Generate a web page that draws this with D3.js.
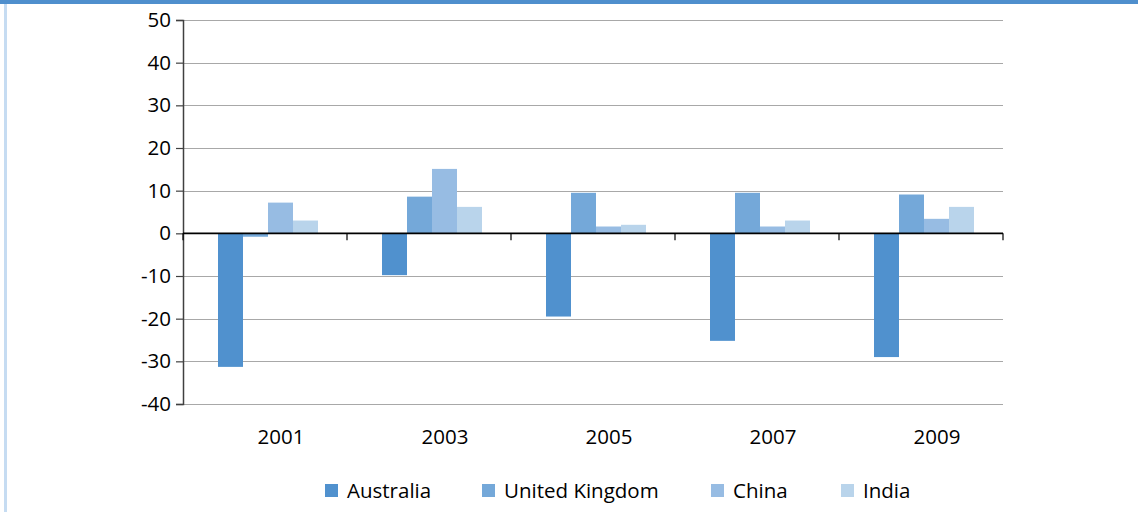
<!DOCTYPE html>
<html>
<head>
<meta charset="utf-8">
<script src="https://cdn.jsdelivr.net/npm/d3@7"></script>
<style>
  html, body { margin: 0; padding: 0; background: #fff; }
  svg { display: block; }
  text { font-family: "Open Sans", "Noto Sans", sans-serif; fill: #000; }
</style>
</head>
<body>
<svg id="chart" width="1138" height="512"></svg>
<script>
const years = ["2001", "2003", "2005", "2007", "2009"];
const seriesNames = ["Australia", "United Kingdom", "China", "India"];
const australia = [-31.3, -9.8, -19.5, -25.2, -29.0];
const unitedKingdom = [-0.8, 8.6, 9.5, 9.5, 9.1];
const china = [7.2, 15.1, 1.6, 1.6, 3.4];
const india = [3.0, 6.2, 2.0, 3.0, 6.2];
const yTicks = [50, 40, 30, 20, 10, 0, -10, -20, -30, -40];
const colors = ["#5091CE", "#74A8D9", "#97BCE3", "#B9D4EB"];

const seriesValues = [australia, unitedKingdom, china, india];

const svg = d3.select("#chart");

// frame
svg.append("rect").attr("x", 0).attr("y", 0).attr("width", 1138).attr("height", 4).attr("fill", "#4F8FCD");
svg.append("rect").attr("x", 4).attr("y", 4).attr("width", 3).attr("height", 508).attr("fill", "#C6DCF2");

const plotLeft = 183, plotRight = 1003, plotTop = 20, plotBottom = 404;
const fontSize = 20.5;

const y = d3.scaleLinear().domain([-40, 50]).range([plotBottom, plotTop]);
const x0 = d3.scaleBand().domain(years).range([plotLeft, plotRight]).paddingInner(0).paddingOuter(0);
const x1 = d3.scaleBand().domain(seriesNames).range([0, 100]);

// gridlines
svg.append("g").selectAll("line").data(yTicks.filter(d => d !== 0)).join("line")
  .attr("x1", plotLeft).attr("x2", plotRight)
  .attr("y1", d => Math.round(y(d)) + 0.5).attr("y2", d => Math.round(y(d)) + 0.5)
  .attr("stroke", "#A8A8A8").attr("stroke-width", 1.2);

// bars
const groups = svg.append("g").selectAll("g").data(years).join("g")
  .attr("transform", d => `translate(${x0(d) + (x0.bandwidth() - 100) / 2 + 3},0)`);
groups.selectAll("rect").data((d, i) => seriesNames.map((s, j) => ({ s, j, v: seriesValues[j][i] }))).join("rect")
  .attr("x", d => x1(d.s))
  .attr("width", x1.bandwidth())
  .attr("y", d => y(Math.max(0, d.v)))
  .attr("height", d => Math.abs(y(d.v) - y(0)))
  .attr("fill", d => colors[d.j]);

// y axis
const yAxis = d3.axisLeft(y).tickValues(yTicks).tickSize(7).tickPadding(5).tickFormat(d => String(d));
const gy = svg.append("g").attr("transform", `translate(${plotLeft},0)`).call(yAxis);
gy.select(".domain").attr("stroke", "#404040").attr("stroke-width", 1.5);
gy.selectAll(".tick line").attr("stroke", "#404040").attr("stroke-width", 1.2);
gy.selectAll(".tick text").attr("font-size", fontSize).attr("fill", "#000")
  .style("font-family", "'Open Sans', 'Noto Sans', sans-serif");

// zero axis line with ticks at category boundaries
const zeroY = y(0);
svg.append("line").attr("x1", plotLeft).attr("x2", plotRight).attr("y1", zeroY).attr("y2", zeroY)
  .attr("stroke", "#000").attr("stroke-width", 1.8);
const boundaries = years.map(d => x0(d)).concat([plotRight]);
svg.append("g").selectAll("line").data(boundaries).join("line")
  .attr("x1", d => d).attr("x2", d => d)
  .attr("y1", zeroY).attr("y2", zeroY + 7)
  .attr("stroke", "#000").attr("stroke-width", 1.2);

// category labels
svg.append("g").selectAll("text").data(years).join("text")
  .attr("x", d => x0(d) + x0.bandwidth() / 2 + 16)
  .attr("y", 444)
  .attr("text-anchor", "middle")
  .attr("font-size", fontSize)
  .text(d => d);

// legend
const legendX = [325, 482, 711, 841];
const lg = svg.append("g").selectAll("g").data(seriesNames).join("g")
  .attr("transform", (d, i) => `translate(${legendX[i]},484)`);
lg.append("rect").attr("width", 13).attr("height", 13).attr("fill", (d, i) => colors[i]);
lg.append("text").attr("x", 22).attr("y", 13.5).attr("font-size", fontSize).text(d => d);
</script>
</body>
</html>
